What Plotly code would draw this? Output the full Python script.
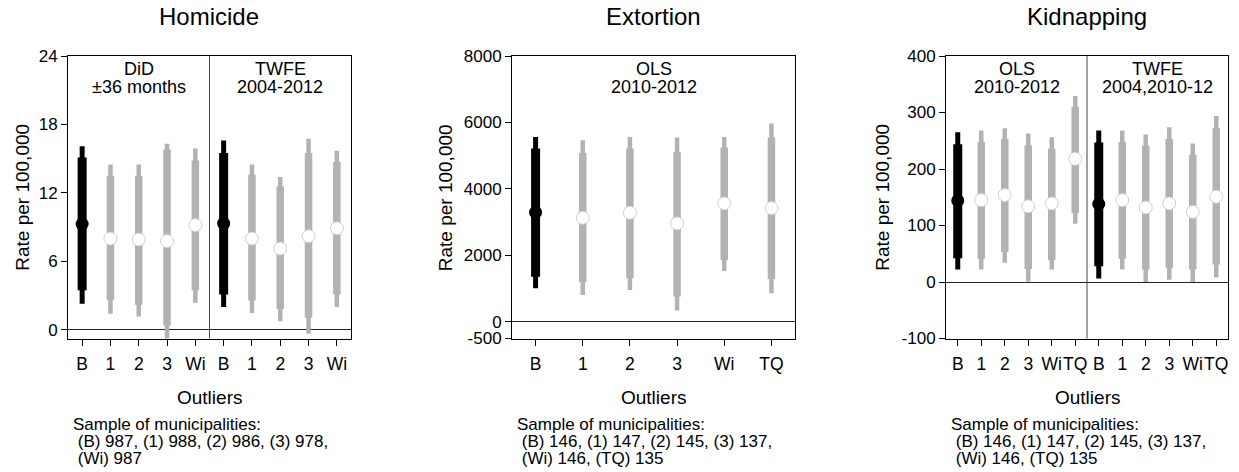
import plotly.graph_objects as go

W, H = 1239, 472
FONT = "Liberation Sans, Arial, Helvetica, sans-serif"

# ---------------- data ----------------
titles = ["Homicide", "Extortion", "Kidnapping"]

hom_labels = ["B", "1", "2", "3", "Wi", "B", "1", "2", "3", "Wi"]
hom_est = [9.27, 8.0, 7.92, 7.78, 9.18, 9.33, 8.0, 7.13, 8.2, 8.9]
hom_hi95 = [16.1, 14.5, 14.5, 16.3, 15.9, 16.6, 14.5, 13.4, 16.75, 15.7]
hom_hi90 = [15.1, 13.5, 13.5, 15.8, 14.85, 15.5, 13.6, 12.56, 15.5, 14.7]
hom_lo90 = [3.46, 2.6, 2.2, 0.38, 3.46, 3.1, 2.58, 1.85, 1.06, 3.1]
hom_lo95 = [2.29, 1.4, 1.17, -0.9, 2.38, 2.0, 1.47, 0.76, -0.35, 2.0]
hom_yticks = [0, 6, 12, 18, 24]
hom_groups = [["DiD", "±36 months"], ["TWFE", "2004-2012"]]
hom_note = ["Sample of municipalities:",
            " (B) 987, (1) 988, (2) 986, (3) 978,",
            " (Wi) 987"]

ext_labels = ["B", "1", "2", "3", "Wi", "TQ"]
ext_est = [3293, 3133, 3283, 2963, 3564, 3423]
ext_hi95 = [5565, 5465, 5565, 5545, 5565, 5966]
ext_hi90 = [5215, 5085, 5215, 5115, 5245, 5545]
ext_lo90 = [1361, 1191, 1311, 761, 1862, 1291]
ext_lo95 = [1011, 811, 961, 340, 1532, 861]
ext_yticks = [-500, 0, 2000, 4000, 6000, 8000]
ext_groups = [["OLS", "2010-2012"]]
ext_note = ["Sample of municipalities:",
            " (B) 146, (1) 147, (2) 145, (3) 137,",
            " (Wi) 146, (TQ) 135"]

kid_labels = ["B", "1", "2", "3", "Wi", "TQ", "B", "1", "2", "3", "Wi", "TQ"]
kid_est = [144, 145, 154, 134, 139, 218, 138, 145, 132, 139, 124, 151]
kid_hi95 = [265, 268, 272, 263, 256, 329, 268, 268, 261, 274, 245, 294]
kid_hi90 = [244, 248, 253, 242, 236, 310, 247, 248, 241, 253, 225, 272]
kid_lo90 = [42, 41, 53, 23, 39, 122, 28, 41, 22, 25, 22, 31]
kid_lo95 = [22, 22, 34, 1, 22, 103, 6, 22, 0, 4, 0, 8]
kid_yticks = [-100, 0, 100, 200, 300, 400]
kid_groups = [["OLS", "2010-2012"], ["TWFE", "2004,2010-12"]]
kid_note = ["Sample of municipalities:",
            " (B) 146, (1) 147, (2) 145, (3) 137,",
            " (Wi) 146, (TQ) 135"]

xlabel = "Outliers"
ylabel = "Rate per 100,000"

panels = [
    dict(labels=hom_labels, est=hom_est, hi95=hom_hi95, hi90=hom_hi90, lo90=hom_lo90,
         lo95=hom_lo95, yticks=hom_yticks, yrange=[-0.76, 24], groups=hom_groups, note=hom_note,
         px=(68, 351), ytitle_x=22.5),
    dict(labels=ext_labels, est=ext_est, hi95=ext_hi95, hi90=ext_hi90, lo90=ext_lo90,
         lo95=ext_lo95, yticks=ext_yticks, yrange=[-500, 8000], groups=ext_groups, note=ext_note,
         px=(512, 795), ytitle_x=445),
    dict(labels=kid_labels, est=kid_est, hi95=kid_hi95, hi90=kid_hi90, lo90=kid_lo90,
         lo95=kid_lo95, yticks=kid_yticks, yrange=[-100, 400], groups=kid_groups, note=kid_note,
         px=(946, 1228), ytitle_x=882.5),
]

# ---------------- styling ----------------
BLACK = "#000000"
GREY = "#b2b2b2"
PLOT_TOP, PLOT_BOT = 56, 338.5


def py(p):
    return 1 - p / H


def pxf(p):
    return p / W


fig = go.Figure()
annotations = []
shapes = []

for k, P in enumerate(panels):
    ax = "" if k == 0 else str(k + 1)
    xa, ya = "x" + ax, "y" + ax
    n = len(P["labels"])
    xs = list(range(1, n + 1))
    base = [lab == "B" for lab in P["labels"]]

    def segs(lo, hi, sel):
        X, Y = [], []
        for i in range(n):
            if sel[i]:
                X += [xs[i], xs[i], None]
                Y += [lo[i], hi[i], None]
        return X, Y

    notbase = [not b for b in base]
    for sel, color, wthin, wthick in [(notbase, GREY, 4.5, 7.5), (base, BLACK, 5, 9)]:
        X, Y = segs(P["lo95"], P["hi95"], sel)
        fig.add_trace(go.Scatter(x=X, y=Y, mode="lines", xaxis=xa, yaxis=ya,
                                 line=dict(color=color, width=wthin), showlegend=False,
                                 hoverinfo="skip"))
        X, Y = segs(P["lo90"], P["hi90"], sel)
        fig.add_trace(go.Scatter(x=X, y=Y, mode="lines", xaxis=xa, yaxis=ya,
                                 line=dict(color=color, width=wthick), showlegend=False,
                                 hoverinfo="skip"))
    # point estimates
    fig.add_trace(go.Scatter(x=[xs[i] for i in range(n) if not base[i]],
                             y=[P["est"][i] for i in range(n) if not base[i]],
                             mode="markers", xaxis=xa, yaxis=ya, showlegend=False,
                             marker=dict(color="white", size=13,
                                         line=dict(color="#d0d0d0", width=1))))
    fig.add_trace(go.Scatter(x=[xs[i] for i in range(n) if base[i]],
                             y=[P["est"][i] for i in range(n) if base[i]],
                             mode="markers", xaxis=xa, yaxis=ya, showlegend=False,
                             marker=dict(color=BLACK, size=13, line=dict(width=0))))

    x0, x1 = P["px"]
    fig.layout["xaxis" + ax] = dict(
        domain=[pxf(x0), pxf(x1)], range=[0.5, n + 0.5], anchor=ya,
        tickmode="array", tickvals=xs, ticktext=P["labels"], tickangle=0,
        ticks="outside", ticklen=6, tickcolor="#000", tickwidth=1,
        showline=True, linecolor="#000", linewidth=1, mirror=True, automargin=False,
        showgrid=False, zeroline=False, ticklabelstandoff=3,
        tickfont=dict(family=FONT, size=17.5, color="#000"))
    fig.layout["yaxis" + ax] = dict(
        domain=[py(PLOT_BOT), py(PLOT_TOP)], range=P["yrange"], anchor=xa,
        tickmode="array", tickvals=P["yticks"], ticktext=[str(v) for v in P["yticks"]],
        automargin=False,
        ticks="outside", ticklen=6, tickcolor="#000", tickwidth=1,
        showline=True, linecolor="#000", linewidth=1, mirror=True,
        showgrid=False, zeroline=True, zerolinecolor="#222", zerolinewidth=1,
        tickfont=dict(family=FONT, size=17, color="#000"))

    # group separators and labels
    ng = len(P["groups"])
    gsize = n // ng
    for g, lines in enumerate(P["groups"]):
        cx = 0.5 + gsize * g + gsize / 2
        for j, t in enumerate(lines):
            annotations.append(dict(text=t, x=cx, xref=xa, y=py(69 + 18 * j), yref="paper",
                                    showarrow=False, xanchor="center", yanchor="middle",
                                    font=dict(family=FONT, size=18, color="#000")))
        if g > 0:
            shapes.append(dict(type="line", xref=xa, yref=ya + " domain",
                               x0=0.5 + gsize * g, x1=0.5 + gsize * g, y0=0, y1=1,
                               line=dict(color="#444", width=1)))

    cxp = (x0 + x1) / 2
    annotations.append(dict(text=titles[k], x=pxf(cxp), y=py(16), xref="paper", yref="paper",
                            showarrow=False, xanchor="center", yanchor="middle",
                            font=dict(family=FONT, size=24, color="#000")))
    annotations.append(dict(text=xlabel, x=pxf(cxp), y=py(397), xref="paper", yref="paper",
                            showarrow=False, xanchor="center", yanchor="middle",
                            font=dict(family=FONT, size=19, color="#000")))
    annotations.append(dict(text=ylabel, x=pxf(P["ytitle_x"]), y=py((PLOT_TOP + PLOT_BOT) / 2),
                            xref="paper", yref="paper", textangle=-90,
                            showarrow=False, xanchor="center", yanchor="middle",
                            font=dict(family=FONT, size=19, color="#000")))
    for j, t in enumerate(P["note"]):
        annotations.append(dict(text=t.replace(" ", "\u00a0"), x=pxf(x0 + 3),
                                y=py(424 + 17 * j), xref="paper", yref="paper",
                                showarrow=False, xanchor="left", yanchor="middle",
                                font=dict(family=FONT, size=17, color="#000")))

fig.update_layout(width=W, height=H, autosize=False,
                  margin=dict(l=0, r=0, t=0, b=0),
                  paper_bgcolor="white", plot_bgcolor="white",
                  annotations=annotations, shapes=shapes, showlegend=False)

fig.write_html("out.html", config={"displayModeBar": False},
               post_script="document.body.style.margin='0';document.body.style.overflow='hidden';")
